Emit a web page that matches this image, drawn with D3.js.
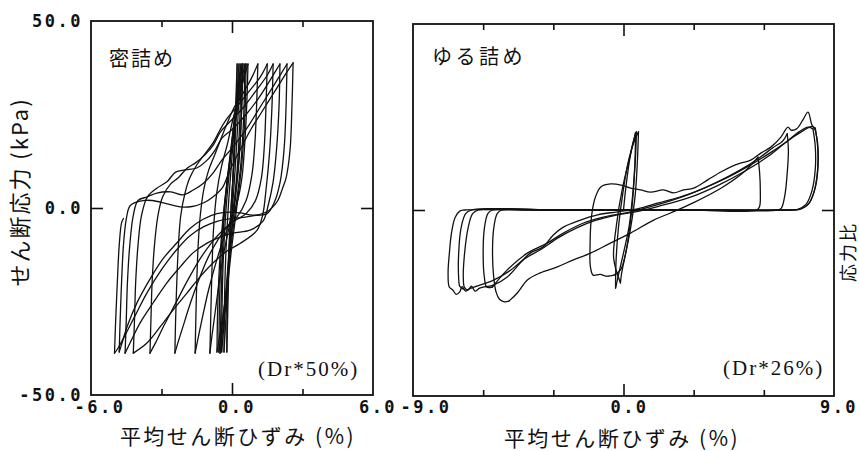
<!DOCTYPE html>
<html><head><meta charset="utf-8">
<script src="https://cdn.jsdelivr.net/npm/d3@7"></script>
<style>
body{margin:0;background:#fff;}
svg{display:block;}
.num{font-family:"DejaVu Sans Mono",monospace;font-weight:bold;font-size:17px;letter-spacing:2.5px;fill:#111;}
.jp{font-family:"Noto Sans CJK JP",sans-serif;fill:#111;}
.ser{font-family:"Liberation Serif",serif;fill:#111;}
</style></head><body>
<svg id="chart" width="859" height="451"></svg>
<script>
// ---- Dense sand (Dr 50%): strain (%), shear stress (kPa) ----
const denseEarlyLoops = [
  [[0,0],[0.06,12],[0.14,25],[0.22,38.5]],
  [[0.22,38.5],[0.18,25],[0.08,12],[-0.04,0],[-0.12,-12],[-0.17,-25],[-0.22,-38.5]],
  [[-0.22,-38.5],[-0.2,-25],[-0.14,-12],[-0.04,0],[0.08,12],[0.16,25],[0.3,38.5]],
  [[0.3,38.5],[0.26,25],[0.15,12],[0.02,0],[-0.12,-12],[-0.22,-25],[-0.34,-38.5]],
  [[-0.34,-38.5],[-0.32,-25],[-0.26,-12],[-0.16,0],[-0.02,12],[0.14,25],[0.38,38.5]],
  [[0.38,38.5],[0.34,25],[0.24,12],[0.08,0],[-0.1,-12],[-0.26,-25],[-0.44,-38.5]],
  [[-0.44,-38.5],[-0.42,-25],[-0.36,-12],[-0.25,0],[-0.08,12],[0.12,25],[0.44,38.5]],
  [[0.44,38.5],[0.4,25],[0.29,12],[0.1,0],[-0.12,-12],[-0.3,-25],[-0.56,-38.5]],
  [[-0.56,-38.5],[-0.53,-25],[-0.46,-12],[-0.33,0],[-0.12,12],[0.14,25],[0.55,38.5]],
  [[0.55,38.5],[0.5,25],[0.38,12],[0.16,0],[-0.08,-12],[-0.3,-25],[-0.64,-38.5]],
  [[-0.64,-38.5],[-0.6,-25],[-0.5,-12],[-0.34,0],[-0.1,12],[0.2,25],[0.6,38.5]],
  [[0.6,38.5],[0.55,25],[0.42,12],[0.2,0],[-0.04,-12],[-0.26,-25],[-0.51,-38.8]]
];
const denseLoading = [
  [[-0.51,-38.8],[-0.47,-27],[-0.42,-15],[-0.35,-4],[-0.22,6],[-0.05,15],[0.12,23],[0.28,31],[0.47,38.5]],
  [[-0.94,-38.8],[-0.9,-28],[-0.85,-16],[-0.78,-5],[-0.65,4],[-0.45,11],[-0.2,17],[0.05,24],[0.3,30],[0.5,34.5],[0.68,38.5]],
  [[-1.57,-38.8],[-1.54,-30],[-1.5,-20],[-1.44,-10],[-1.35,-2],[-1.2,5],[-1.0,10],[-0.75,14],[-0.5,18],[-0.25,22],[0.1,27],[0.5,31],[0.85,35],[1.1,38.5]],
  [[-2.43,-38.8],[-2.4,-30],[-2.35,-20],[-2.28,-10],[-2.18,-2],[-2.0,4],[-1.8,8],[-1.5,11.5],[-1.15,14.5],[-0.8,17.5],[-0.5,21],[-0.2,24],[0.2,27],[0.7,31],[1.2,35],[1.5,38.5]],
  [[-3.49,-38.8],[-3.45,-30],[-3.4,-20],[-3.3,-10],[-3.15,-2],[-2.95,3],[-2.6,6.5],[-2.3,8],[-1.9,10.7],[-1.57,12],[-1.15,14.2],[-0.8,16.8],[-0.5,20.3],[-0.1,23],[0.5,27],[1.1,32],[1.5,35.5],[1.75,38.5]],
  [[-4.2,-38.8],[-4.15,-30],[-4.1,-20],[-4.0,-10],[-3.85,-2],[-3.6,3],[-3.2,5.3],[-2.77,7],[-2.4,9.6],[-2.0,10.2],[-1.5,10.7],[-1.06,12.8],[-0.72,15.5],[-0.43,18.7],[0,21],[0.6,25],[1.2,30],[1.7,35],[2.04,38.5]],
  [[-4.55,-38.8],[-4.5,-30],[-4.45,-20],[-4.35,-10],[-4.2,-2],[-4.0,2],[-3.6,3],[-3.2,4],[-2.6,4.3],[-2.1,3.5],[-1.65,4.8],[-1.2,6.7],[-0.8,9.4],[-0.43,12.8],[0,16],[0.6,21],[1.2,27],[1.8,33],[2.34,38.5]],
  [[-4.8,-38.5],[-4.76,-30],[-4.7,-20],[-4.62,-10],[-4.5,-3],[-4.35,0.5],[-4.1,1.5],[-3.8,2],[-3.4,2],[-2.8,1.2],[-2.2,0.3],[-1.7,0.4],[-1.2,1.4],[-0.8,3],[-0.4,5.5],[-0.1,10],[0.3,15],[0.8,21],[1.3,26],[1.9,32],[2.3,36],[2.6,38.8]],
  [[-5.0,-38.8],[-4.95,-30],[-4.88,-20],[-4.8,-10],[-4.7,-4],[-4.62,-2.8]]
];
const denseUnloading = [
  [[0.47,38.5],[0.42,28],[0.35,18],[0.22,8],[0.05,0],[-0.15,-6],[-0.35,-12],[-0.55,-20],[-0.72,-28],[-0.85,-34],[-0.94,-38.8]],
  [[0.68,38.5],[0.63,28],[0.55,18],[0.42,8],[0.2,1],[-0.1,-4],[-0.4,-9],[-0.7,-15],[-1.0,-22],[-1.25,-29],[-1.45,-35],[-1.57,-38.8]],
  [[1.1,38.5],[1.05,28],[0.98,18],[0.85,9],[0.6,2],[0.2,-2.5],[-0.2,-5],[-0.6,-8.5],[-1.0,-13],[-1.4,-19],[-1.8,-26],[-2.1,-32],[-2.3,-36],[-2.43,-38.8]],
  [[1.5,38.5],[1.45,28],[1.38,17],[1.25,8],[1.0,2],[0.6,-1.5],[0.1,-3.5],[-0.4,-6],[-0.9,-9.5],[-1.4,-14],[-1.9,-19.5],[-2.4,-25.5],[-2.9,-31.5],[-3.25,-36],[-3.49,-38.8]],
  [[1.75,38.5],[1.7,27],[1.6,15],[1.45,5],[1.3,-2],[1.06,-6],[0.34,-9.5],[-0.21,-11.5],[-0.81,-14.7],[-1.36,-18.4],[-1.91,-22.7],[-2.51,-27.3],[-3.06,-31.8],[-3.62,-36.1],[-4.2,-38.8]],
  [[2.04,38.5],[2.0,27],[1.9,16],[1.75,7],[1.55,1],[1.32,-3.5],[0.77,-5.9],[0.04,-6.7],[-0.51,-7.8],[-1.06,-9.4],[-1.66,-12],[-2.21,-15.8],[-2.77,-20],[-3.36,-25.4],[-3.91,-30.7],[-4.34,-36.1],[-4.55,-38.8]],
  [[2.34,38.5],[2.3,27],[2.22,16],[2.05,7],[1.8,1.5],[1.49,-1.5],[0.89,-1.9],[0.34,-1.3],[-0.09,-1.1],[-0.64,-1.5],[-1.23,-3],[-1.79,-5.5],[-2.34,-9.3],[-2.94,-13.6],[-3.49,-19],[-4.04,-25.3],[-4.45,-31.5],[-4.7,-36.5],[-4.8,-38.5]],
  [[2.6,38.8],[2.55,27],[2.47,15.5],[2.3,8],[2.17,5.6],[1.95,2],[1.74,0.3],[1.49,-1],[1.0,-2],[0.5,-2.5],[0,-2.8],[-0.6,-3.5],[-1.2,-5],[-1.8,-7.5],[-2.4,-11.5],[-3.0,-16.5],[-3.6,-22.5],[-4.1,-28.5],[-4.55,-34],[-4.85,-37.5],[-5.0,-38.8]]
];

// ---- Loose sand (Dr 26%) ----
const looseEarlyLoops = [
  [[0,0],[0.1,6],[0.25,13],[0.4,18],[0.55,21]],
  [[0.55,21],[0.52,15],[0.42,6],[0.25,-4],[0.02,-11],[-0.2,-17],[-0.34,-21]],
  [[-0.34,-21],[-0.32,-14],[-0.22,-5],[-0.04,4],[0.17,12],[0.43,18],[0.64,21]],
  [[0.64,21],[0.6,14],[0.5,4],[0.3,-5],[0.08,-12],[-0.08,-17],[-0.13,-19.6]],
  [[-0.13,-19.6],[-0.42,-13],[-0.3,-4],[-0.04,6],[0.3,15],[0.51,20.7]],
  [[0.51,20.7],[0.5,15],[0.42,5],[0.26,-5],[0.08,-12],[-0.12,-16],[-0.4,-17.5]],
  [[-0.4,-17.5],[-0.7,-17.8],[-1.0,-17.3],[-1.3,-17.5],[-1.42,-15],[-1.43,-10],[-1.4,-4],[-1.33,0],[-1.2,3.5],[-0.97,6.2],[-0.55,7],[-0.1,6.7],[0.3,5.9],[0.73,5.4],[1.16,4.8],[1.71,5.4],[2.14,4.6],[2.57,5.4],[3.0,5.9],[3.6,8.1],[4.16,10.2],[4.59,11.6],[5.0,12.6],[5.44,13.4],[5.87,15.3],[6.3,16.9],[6.73,19.6],[7.03,22.3],[7.16,21.5],[7.4,21.8],[7.65,24],[7.89,26.3],[8.05,23],[8.2,21.5]]
];
const looseRelease = [
  [[8.2,21.5],[8.3,18],[8.32,12],[8.2,6],[7.95,2],[7.6,0.3],[7.2,0],[5,0],[2,0],[-1,0],[-4,0],[-5.2,0],[-5.4,-1],[-5.55,-5],[-5.6,-12],[-5.55,-18],[-5.45,-22],[-5.3,-24],[-5.1,-24.7],[-4.9,-24.5]],
  [[5.75,14.2],[5.82,10],[5.85,5],[5.82,1],[5.7,0],[3,0],[0,0],[-3,0],[-5.6,0],[-5.8,-1],[-5.95,-5],[-6.0,-12],[-5.95,-18],[-5.85,-20.7],[-5.6,-20.7]],
  [[7.0,20.5],[7.05,16],[7.0,10],[6.9,4],[6.75,0.5],[6.6,0],[3,0],[0,0],[-3,0],[-6.2,0],[-6.45,-1],[-6.65,-5],[-6.8,-12],[-6.85,-18],[-6.8,-20.8],[-6.65,-21.5],[-6.5,-20.5],[-6.35,-21.8],[-6.15,-21],[-5.9,-20.6]],
  [[8.1,21.8],[8.2,17],[8.2,11],[8.05,5],[7.8,1.5],[7.45,0.2],[7.0,0],[3,0],[0,0],[-4,0],[-6.8,0],[-7.0,-0.3],[-7.2,-2],[-7.35,-6],[-7.45,-12],[-7.5,-17],[-7.45,-20.7],[-7.3,-21.5],[-7.15,-22.7],[-7.0,-22],[-6.9,-20.6],[-6.75,-21.8],[-6.6,-21.2],[-6.3,-20.5]],
  [[8.2,22],[8.3,17],[8.3,11],[8.15,5],[7.9,1.5],[7.5,0.2],[7.0,0],[3,0],[-3,0],[-6.5,0],[-6.75,-1],[-6.95,-5],[-7.05,-12],[-7.05,-18],[-7.0,-20.5],[-6.85,-21.3]]
];
const looseRise = [
  [[-4.9,-24.5],[-4.54,-22.3],[-4.11,-18.8],[-3.56,-16.9],[-2.83,-15.3],[-2.14,-13.4],[-1.41,-11.6],[-0.56,-8.9],[0.3,-6.2],[1.29,-2.7],[2.01,-0.8],[3,2],[4.2,6],[5.2,10.5],[5.75,14.2]],
  [[-5.6,-20.7],[-4.97,-16.1],[-4.11,-11.6],[-3.26,-8.9],[-2.57,-6.2],[-1.71,-3.5],[-0.86,-1.9],[0.3,-0.5],[1.5,1.5],[2.8,4.2],[4.0,7.5],[5.0,10.8],[5.8,14],[6.4,16.8],[6.8,18.5],[7.0,20.5]],
  [[-5.9,-20.6],[-5.57,-20.2],[-4.97,-18],[-4.41,-14.2],[-3.99,-11.6],[-3.43,-9.9],[-3.0,-6.7],[-2.57,-4.6],[-1.84,-2.7],[-1.11,-1.3],[-0.26,-0.5],[0.6,0.3],[1.5,1.9],[2.8,4.3],[4.2,8],[5.4,12],[6.3,15.5],[7.0,18.5],[7.5,21],[7.9,22.3],[8.1,21.8]],
  [[-6.3,-20.5],[-5.6,-19],[-4.9,-16.5],[-4.2,-13],[-3.5,-10.5],[-2.8,-7.5],[-2.0,-4.8],[-1.2,-2.8],[-0.4,-1.5],[0.5,-0.5],[1.5,1],[2.8,3.3],[4.0,6.5],[5.2,10.5],[6.2,14.5],[7.0,18.5],[7.6,21],[8.05,22.5],[8.2,22]]
];

// ---- axis labels ----
const stressLabels = [50, 0, -50];
const denseStrainLabels = [-6, 0, 6];
const looseStrainLabels = [-9, 0, 9];
const denseTicks = [-3, 3];
const looseTicks = [-6, -3, 3, 6];

const svg = d3.select('#chart');

const xD = d3.scaleLinear().domain([-6, 6]).range([91, 373]);
const yD = d3.scaleLinear().domain([-50, 50]).range([395, 21]);
const xL = d3.scaleLinear().domain([-9, 9]).range([413, 834]);
const yL = d3.scaleLinear().domain([-50, 50]).range([396, 24]);

function drawFrame(x, y, minorX) {
  const [x0, x1] = x.range();
  const [y0, y1] = y.range();
  const g = svg.append('g');
  // minor ticks (top and bottom, pointing inward)
  g.append('g').attr('transform', `translate(0,${y0})`)
    .call(d3.axisBottom(x).tickValues(minorX).tickSize(-6).tickFormat(''));
  g.append('g').attr('transform', `translate(0,${y1})`)
    .call(d3.axisTop(x).tickValues(minorX).tickSize(-6).tickFormat(''));
  // major tick at zero strain
  g.append('g').attr('transform', `translate(0,${y0})`)
    .call(d3.axisBottom(x).tickValues([0]).tickSize(-12).tickFormat(''));
  g.append('g').attr('transform', `translate(0,${y1})`)
    .call(d3.axisTop(x).tickValues([0]).tickSize(-12).tickFormat(''));
  // zero stress ticks on both sides
  g.append('g').attr('transform', `translate(${x0},0)`)
    .call(d3.axisLeft(y).tickValues([0]).tickSize(-12).tickFormat(''));
  g.append('g').attr('transform', `translate(${x1},0)`)
    .call(d3.axisRight(y).tickValues([0]).tickSize(-12).tickFormat(''));
  g.selectAll('.domain').remove();
  g.selectAll('.tick line').attr('stroke', '#111').attr('stroke-width', 1.6);
  g.append('rect').attr('x', x0).attr('y', y1).attr('width', x1 - x0).attr('height', y0 - y1)
    .attr('fill', 'none').attr('stroke', '#111').attr('stroke-width', 1.8);
}

function drawPaths(x, y, groups) {
  const line = d3.line().x(d => x(d[0])).y(d => y(d[1])).curve(d3.curveCatmullRom.alpha(0.5));
  const g = svg.append('g').attr('fill', 'none').attr('stroke', '#111')
    .attr('stroke-width', 1.3).attr('stroke-linejoin', 'round').attr('stroke-linecap', 'round');
  groups.forEach(set => set.forEach(p => g.append('path').attr('d', line(p))));
}

drawFrame(xD, yD, denseTicks);
drawFrame(xL, yL, looseTicks);
drawPaths(xD, yD, [denseEarlyLoops, denseLoading, denseUnloading]);
drawPaths(xL, yL, [looseEarlyLoops, looseRelease, looseRise]);

// stress tick labels (left panel)
svg.append('g').selectAll('text').data(stressLabels).join('text')
  .attr('class', 'num').attr('x', 83).attr('y', d => yD(d))
  .attr('dy', '0.36em').attr('text-anchor', 'end')
  .text(d => d.toFixed(1));

// strain tick labels
const fmt = d => d.toFixed(1);
svg.append('g').selectAll('text').data(denseStrainLabels).join('text')
  .attr('class', 'num').attr('x', d => xD(d) + (d < 0 ? 9 : 5)).attr('y', 413)
  .attr('text-anchor', 'middle').text(fmt);
svg.append('g').selectAll('text').data(looseStrainLabels).join('text')
  .attr('class', 'num').attr('x', d => xL(d) + (d < 0 ? 13 : d > 0 ? 5 : 6)).attr('y', 413)
  .attr('text-anchor', 'middle').text(fmt);

// axis titles
svg.append('text').attr('class', 'jp').attr('font-size', 22)
  .attr('transform', 'translate(28,192) rotate(-90)').attr('text-anchor', 'middle')
  .attr('letter-spacing', 2)
  .text('せん断応力 (kPa)');
svg.append('text').attr('class', 'jp').attr('font-size', 21).attr('letter-spacing', 2.5)
  .attr('x', 238).attr('y', 444).attr('text-anchor', 'middle').text('平均せん断ひずみ (%)');
svg.append('text').attr('class', 'jp').attr('font-size', 21).attr('letter-spacing', 2.5)
  .attr('x', 622).attr('y', 446).attr('text-anchor', 'middle').text('平均せん断ひずみ (%)');
svg.append('text').attr('class', 'jp').attr('font-size', 18)
  .attr('transform', 'translate(855,252) rotate(-90)').attr('text-anchor', 'middle')
  .attr('letter-spacing', 2).text('応力比');

// panel captions
svg.append('text').attr('class', 'jp').attr('font-size', 20).attr('letter-spacing', 2).attr('x', 109).attr('y', 66).text('密詰め');
svg.append('text').attr('class', 'jp').attr('font-size', 20).attr('letter-spacing', 3.5).attr('x', 432).attr('y', 64).text('ゆる詰め');
svg.append('text').attr('class', 'ser').attr('font-size', 21).attr('letter-spacing', 2).attr('x', 258).attr('y', 376).text('(Dr*50%)');
svg.append('text').attr('class', 'ser').attr('font-size', 21).attr('letter-spacing', 2).attr('x', 723).attr('y', 375).text('(Dr*26%)');
</script></body></html>
